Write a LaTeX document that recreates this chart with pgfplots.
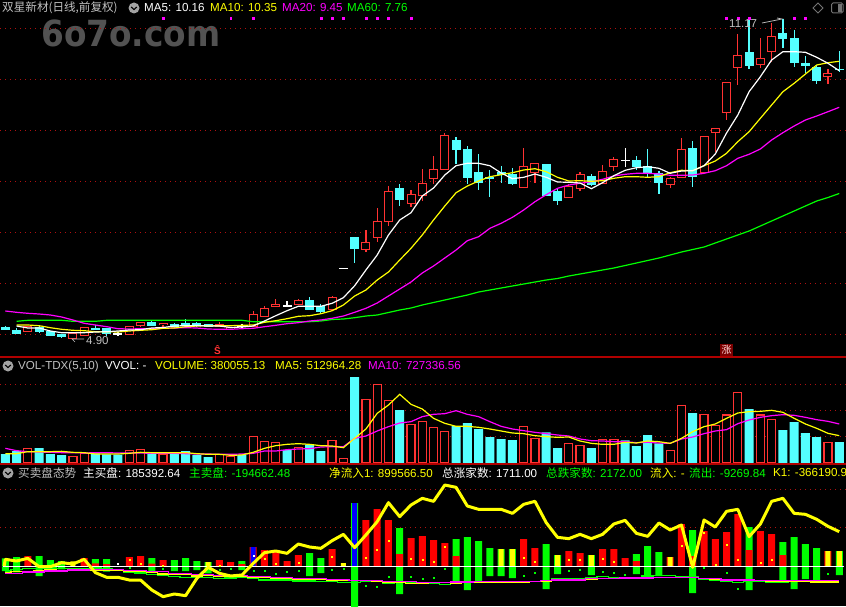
\documentclass[border=0pt]{standalone}
\usepackage{fontspec}
\usepackage{pgfplots}
\usepackage{pgfplotstable}
\pgfplotsset{compat=1.18}
\setmainfont{Liberation Sans}
\newfontfamily\cjk{Noto Sans CJK SC}
\newfontfamily\wm{DejaVu Sans}[BoldFont=DejaVu Sans Bold]
\definecolor{gr}{HTML}{C0C0C0}
\definecolor{cR}{HTML}{FF3232}
\definecolor{cC}{HTML}{54FFFF}
\definecolor{grd}{HTML}{B01010}
\definecolor{sep}{HTML}{B00000}
\definecolor{mg}{HTML}{FF00FF}
\definecolor{yl}{HTML}{FFFF00}
\definecolor{gn}{HTML}{00FF00}
\definecolor{rd}{HTML}{FF0000}
\definecolor{bl}{HTML}{0000FF}
\definecolor{wt}{HTML}{FFFFFF}
\definecolor{bk}{HTML}{000000}

% i hi top bot lo (screen rows)
\pgfplotstableread{
i hi top bot lo
2 326.3 326.3 331.7 331.7
6 333 333 338.7 338.7
7 327.3 327.3 335.7 335.7
11 326.3 326.3 334.3 334.3
12 322.3 322.3 325.7 327
14 323.3 323.3 324.6 326.7
19 322 324.3 326 326
20 327.5 327.5 328.7 328.7
22 311 314.3 326.7 326.7
23 306 308.3 316.7 316.7
24 299 304 306.7 306.7
26 299 300.3 304.7 304.7
29 296 297 309.3 309.3
32 230.3 242.3 249.3 251.7
33 208.3 221.3 237.7 241.7
34 186 191.3 221.7 225.7
36 190 194.3 203.7 207
37 169.3 183.3 195.3 201
38 156 169.3 178.7 183.7
39 133.3 135.3 169.7 169.7
46 148 166.3 187.7 187.7
47 163.3 163.3 172.7 182.7
50 184 186.5 197.7 197.7
51 171.7 174.3 188.7 190.7
53 165 171.3 183.3 183.3
54 157 159.3 166.5 170.7
59 176.7 178.3 184.7 188
60 138 149.3 177.3 177.3
62 136 136.3 172 172
63 128.3 128.3 132.7 152
64 82.3 82.3 112.7 119.7
65 34 55.3 67.7 84.7
67 38 58.3 64.7 68
68 23.3 36.3 51.7 61.7
73 69.3 73.3 76.7 83.7
}\redc
\pgfplotstableread{
i hi top bot lo
0 326 327 329 330
1 328 330 333 334
3 326 327.3 331 333
4 331 331.3 335 336
5 334.5 334.7 336.7 338
8 325 328.3 329 329.5
9 328 328.3 333.7 336
13 320.7 322.3 325.3 326
15 323 324.3 326 327.7
16 319.3 323.3 325 325.5
17 322 323.3 325.3 326.7
18 324 324 326 327
27 297 300 309 310
28 304 306 311 313
31 237 237 248 262.7
35 184.3 188.3 199.7 205.7
40 137.3 140.3 149.7 164.3
41 146.3 149 177.7 183.7
42 154 172 182.7 189.7
43 170 177.3 178.7 196.7
44 166 172.3 174.7 182.7
45 168 174 183 185
48 164 164 195 195
49 188.3 191 200 204.7
52 174 176.3 184 186
56 156 160 166 170
57 149 166 172.7 176.7
58 171.3 173.3 182.7 194
61 141 148 176.7 187
66 20 52 65.7 68.7
69 19 33 38 48.3
70 30 38 62.7 66.7
71 56 63 65.7 73.3
72 65 67.3 80.7 84
74 51 69 69.6 71.7
}\cyanc
\pgfplotstableread{
i hi top bot lo
10 332.3 333.6 334 336
21 324 325.8 326.2 328
25 301 305.5 305.9 307.3
30 268 268.1 268.5 268.5
55 148 160.1 160.5 167
}\whitec
\pgfplotstableread{
i ma5 ma10 ma20 ma60
0 nan nan 311 nan
1 326 325 312.3 321.3
2 328 325 313.3 320.3
3 328 325.7 314 320.3
4 331 327.7 315 320.3
5 332.7 329.3 317 320.3
6 332.7 330.3 320 321.3
7 332.7 330.7 323.3 321.3
8 332 331.7 325 321.3
9 331.7 331.7 326.7 320.3
10 331 332 328.7 320.3
11 330 331 329 320.3
12 329.7 330.3 328.7 320.3
13 328 329.7 328.7 320.3
14 327.5 328.3 328.3 320.3
15 326 328 328 320.3
16 325.7 326.7 327.7 320.3
17 325.5 326 328 320.3
18 326 325.7 329 320.3
19 326 325.7 329.3 320.3
20 327.5 325.7 329.3 320.3
21 327 325.3 328.7 320.3
22 326 325 328.3 321.7
23 321 322.3 326.7 321.7
24 315.7 320.7 325.3 321.7
25 310.7 318.7 323.7 321.7
26 306.3 316.3 322.7 321.7
27 306.3 315.7 321 321.7
28 306.3 313.7 320 321
29 303.3 310.7 318.3 319.5
30 297.7 305 316 319
31 285.7 296 312.3 317.7
32 270 290 308.3 316
33 255 280 303 315
34 235 272 296 312.5
35 220 260 289 310
36 212.7 248.3 282 308
37 196 235 273 305
38 188 220 266 302.5
39 175 206 258 300
40 165.7 192.7 250 297.5
41 163.3 186 240.7 295
42 163.3 181 236.7 292
43 165.7 176.7 228.3 290
44 173 174.7 223.3 288
45 178.7 172.7 217.3 286
46 177.3 170 210 284
47 174 168.7 201.7 282
48 177.3 171.7 194.7 280
49 182 177.3 188.3 278.5
50 182.3 181 185 276
51 183 180.7 183.3 274
52 188.7 181.3 181.7 272
53 182.7 180.7 179.3 270
54 175.7 178.3 176 268
55 170.3 176.7 174.3 265.5
56 167.7 176.7 173.3 263
57 166.7 177.3 173.3 260.5
58 168.3 176.7 174 258
59 173.3 172.7 175.3 255
60 171 170.3 175.3 252
61 170.7 170.7 175 249.5
62 165.7 165.7 173.3 247
63 154 161 170.7 243
64 133 153.3 165.7 239
65 115 141.7 158.3 235
66 91.7 131.7 154.3 231
67 76.7 118.3 149 226
68 60 105 140 221
69 51.7 91.7 132.7 216
70 51.7 83.3 126 211
71 52.3 74 120 206
72 57.3 65 116 201
73 63.3 62.7 111.7 197.5
74 70.7 61.3 107.3 193.5
}\mas

% volume, in thirds of a pixel
\pgfplotstableread{
i v
2 43
6 20
7 29
11 38
12 41
14 26
19 26
20 20
22 80
23 65
24 62
26 47
29 68
30 14
32 191
33 236
34 188
36 116
37 125
38 107
39 95
46 110
47 74
50 59
51 53
53 71
54 71
59 38
60 173
62 146
63 113
64 144
65 212
67 144
68 131
73 62
}\volred
\pgfplotstableread{
i v
0 27
1 36
3 45
4 27
5 24
8 29
9 26
10 25
13 31
15 29
16 36
17 24
18 18
21 24
25 39
27 56
28 36
31 258
35 159
40 111
41 120
42 102
43 78
44 72
45 69
48 92
49 45
52 45
55 68
56 51
57 84
58 59
61 150
66 162
69 99
70 123
71 90
72 78
74 63
}\volcyan
\pgfplotstableread{
i ma5 ma10
0 28 44
1 28 37
2 34 34
3 34 33
4 34 32
5 35 31
6 32 31
7 31 30
8 27 31
9 27 31
10 27 30
11 29 30
12 32 30
13 31 29
14 31 29
15 31 29
16 31 28
17 28 27
18 26 27
19 26 26
20 23 26
21 24 27
22 32 29
23 44 36
24 52 36
25 56 40
26 58 42
27 56 43
28 52 48
29 51 49
30 46 49
31 74 74
32 102 81
33 149 96
34 174 109
35 206 120
36 176 124
37 162 139
38 134 146
39 119 148
40 110 157
41 110 146
42 107 139
43 102 124
44 96 110
45 90 102
46 88 97
47 82 92
48 79 88
49 77 84
50 78 81
51 66 72
52 59 67
53 56 66
54 56 64
55 62 64
56 60 61
57 66 62
58 64 60
59 59 59
60 74 72
61 94 78
62 109 88
63 117 96
64 134 100
65 150 118
66 154 129
67 155 137
68 158 142
69 152 145
70 134 143
71 117 137
72 104 130
73 89 125
74 82 117
}\volma

% lower panel
\pgfplotstableread{
i up down
0 24 -14
1 28 -18
3 31 -29
4 19 -11
5 16 -9
8 22 -11
9 22 -16
13 25 -14
15 19 -14
16 25 -14
17 16 -11
18 13 -21
21 16 -11
27 40 -29
28 25 -20
31 190 -125
35 115 -83
40 82 -47
41 88 -71
42 76 -44
43 55 -29
44 52 -29
45 52 -35
48 67 -68
49 34 -23
52 34 -26
56 37 -23
57 61 -35
58 43 -29
61 109 -80
66 118 -71
69 73 -47
70 88 -68
71 67 -38
72 55 -47
74 46 -26
}\lowgreen
\pgfplotstableread{
i h
2 31
7 25
8 9
9 7
11 28
12 31
13 8
14 19
19 19
20 13
21 7
22 58
23 49
24 46
25 16
26 34
29 52
32 139
33 172
34 139
35 37
36 85
37 91
38 79
39 70
40 31
46 82
47 55
50 46
51 40
53 52
54 52
55 25
56 16
59 28
60 127
61 31
62 106
63 82
64 103
65 157
66 49
67 106
68 97
69 34
73 46
}\lowred
\pgfplotstableread{
i h
6 15
18 13
30 10
44 52
45 52
49 34
52 34
59 28
73 46
74 46
}\lowyel
\pgfplotstableread{
i h
22 58
31 190
}\lowblue
\pgfplotstableread{
i net
-0.1 1
0 21
1 16
2 24
3 -1
4 -1
5 11
6 7
7 21
8 -19
9 -33
10 -33
11 -41
12 -41
13 -71
14 -91
15 -83
16 -88
17 -36
18 -3
19 -21
20 -29
21 -26
22 9
23 41
24 46
25 39
26 67
27 58
28 54
29 77
30 96
31 56
32 94
33 134
34 191
35 149
36 184
37 204
38 195
39 244
40 237
41 181
42 171
43 171
44 171
45 159
46 186
47 195
48 131
49 87
50 83
51 96
52 83
53 96
54 127
55 138
56 99
57 90
58 130
59 109
60 124
61 -3
62 139
63 118
64 165
65 171
66 89
67 127
68 195
69 204
70 159
71 156
72 141
73 120
74 104
}\lownet
\pgfplotstableread{
i g y m
0 -14 -18 -21
1 -9 -16 -21
2 -6 -16 -17
3 -6 -13 -17
4 -5 -11 -14
5 -6 -12 -14
6 -7 -9 -11
7 -6 -11 -11
8 -5 -11 -10
9 -7 -11 -10
10 -9 -11 -10
11 -17 -14 -13
12 -20 -14 -13
13 -25 -19 -16
14 -27 -23 -16
15 -30 -25 -21
16 -33 -25 -21
17 -33 -29 -25
18 -33 -27 -25
19 -36 -31 -28
20 -35 -31 -28
21 -33 -31 -28
22 -37 -33 -31
23 -41 -34 -31
24 -41 -36 -33
25 -41 -36 -33
26 -44 -39 -36
27 -44 -39 -36
28 -46 -40 -36
29 -45 -42 -39
30 -49 -42 -39
31 -48 -43 -43
32 -46 -43 -43
33 -46 -45 -43
34 -52 -47 -46
35 -49 -49 -46
36 -49 -51 -46
37 -49 -50 -48
38 -51 -49 -48
39 -54 -49 -48
40 -52 -50 -47
41 -49 -49 -47
42 -47 -47 -46
43 -46 -47 -46
44 -46 -47 -46
45 -46 -47 -46
46 -46 -47 -46
47 -46 -46 -46
48 -42 -44 -43
49 -37 -39 -41
50 -36 -39 -41
51 -37 -39 -41
52 -33 -39 -37
53 -30 -36 -37
54 -33 -36 -37
55 -33 -36 -35
56 -34 -35 -35
57 -29 -33 -35
58 -27 -33 -33
59 -27 -33 -33
60 -32 -33 -34
61 -31 -33 -34
62 -38 -36 -37
63 -41 -39 -37
64 -44 -39 -41
65 -48 -42 -41
66 -45 -42 -41
67 -44 -42 -43
68 -48 -44 -43
69 -47 -44 -43
70 -45 -44 -43
71 -44 -45 -42
72 -42 -47 -42
73 -42 -47 -42
74 -42 -47 -42
}\lowthin
\pgfplotstableread{
i h
11 21
12 9
14 3
19 3
23 24
24 9
26 12
29 30
32 27
33 51
34 78
36 24
37 21
38 15
39 60
46 27
47 15
50 21
51 21
53 24
54 15
60 63
62 100
63 6
64 66
65 21
67 12
68 21
}\dotyel
\pgfplotstableread{
i h
11 -3
14 -6
19 -9
20 -6
22 -12
23 -12
24 -21
25 -15
26 -12
29 -9
30 -6
32 -57
33 -60
34 -30
36 -30
37 -36
38 -33
39 -6
46 -27
47 -18
50 -12
51 -9
53 -15
54 -18
55 -24
62 -3
64 -18
65 -66
73 -21
}\dotgrn

\pgfplotsset{panel/.style={
  scale only axis, width=846pt, xmin=-0.47, xmax=74.6,
  xtick=\empty, yticklabels={}, ymajorgrids,
  grid style={draw=grd, line width=1pt, dash pattern=on 1pt off 4pt},
  tick style={draw=none}, axis line style={draw=none},
  anchor=south west},
  wick/.style={draw=none, mark=none, forget plot, error bars/.cd, y dir=both, y explicit, error mark=none,
    error bar style={draw=#1, line width=1.2pt, solid}},
  body/.style 2 args={draw=none, mark=none, forget plot, error bars/.cd, y dir=both, y explicit, error mark=none,
    error bar style={draw=#1, line width=#2, solid}},
}
\newcommand{\T}[4]{\node[anchor=west, inner sep=0pt, text=#3, font=\fontsize{11.6pt}{12pt}\selectfont] at (#1pt,{(606-#2)*1pt}) {#4};}
\newcommand{\chev}[2]{\fill[gr!85!black] (#1pt,{(606-#2)*1pt}) circle (5.5pt);
  \draw[bk, line width=1.1pt] ({(#1-2.8)*1pt},{(606-#2+1)*1pt}) -- (#1pt,{(606-#2-1.5)*1pt}) -- ({(#1+2.8)*1pt},{(606-#2+1)*1pt});}

\begin{document}
\begin{tikzpicture}
\path[use as bounding box, fill=bk] (0pt,0pt) rectangle (846pt,606pt);
\node[anchor=west, inner sep=0pt, text=black!68, font=\wm\bfseries\fontsize{36pt}{36pt}\selectfont] at (41pt,{(606-33)*1pt}) {\scalebox{0.91}[1]{6o7o.com}};

% ---------- main panel
\begin{axis}[panel, at={(0pt,249pt)}, height=357pt, ymin=0, ymax=357, y dir=reverse,
  ytick={28,79.5,130.5,181.7,232.8,283,334}]
\addplot[wick=cR] table[x=i, y expr=(\thisrow{hi}+\thisrow{lo})/2, y error expr=(\thisrow{lo}-\thisrow{hi})/2] {\redc};
\addplot[wick=cC] table[x=i, y expr=(\thisrow{hi}+\thisrow{lo})/2, y error expr=(\thisrow{lo}-\thisrow{hi})/2] {\cyanc};
\addplot[wick=wt] table[x=i, y expr=(\thisrow{hi}+\thisrow{lo})/2, y error expr=(\thisrow{lo}-\thisrow{hi})/2] {\whitec};
\addplot[body={cR}{9pt}] table[x=i, y expr=(\thisrow{top}+\thisrow{bot})/2, y error expr=(\thisrow{bot}-\thisrow{top})/2+0.5] {\redc};
\addplot[body={bk}{7pt}] table[x=i, y expr=(\thisrow{top}+\thisrow{bot})/2, y error expr={max((\thisrow{bot}-\thisrow{top})/2-0.5,0)}] {\redc};
\addplot[body={cC}{9pt}] table[x=i, y expr=(\thisrow{top}+\thisrow{bot})/2, y error expr=(\thisrow{bot}-\thisrow{top})/2+0.5] {\cyanc};
\addplot[body={wt}{9pt}] table[x=i, y expr=(\thisrow{top}+\thisrow{bot})/2, y error expr=(\thisrow{bot}-\thisrow{top})/2+0.3] {\whitec};
\addplot[gn, line width=1.2pt, forget plot] table[x=i, y=ma60] {\mas};
\addplot[mg, line width=1.2pt, forget plot] table[x=i, y=ma20] {\mas};
\addplot[yl, line width=1.2pt, forget plot] table[x=i, y=ma10] {\mas};
\addplot[wt, line width=1.2pt, forget plot] table[x=i, y=ma5] {\mas};
\addplot[only marks, mark=square*, mark size=0.9pt, mg, forget plot] coordinates {
(14,18)(20,18)(22,18)(28,18)(29,18)(30,18)(32,18)(33,18)(34,18)(36,18)(64,18)(65,18)(66,18)(70,18)(71,18)};
\end{axis}

% ---------- volume panel
\begin{axis}[panel, at={(0pt,143pt)}, height=108pt, ymin=0, ymax=324, ytick={80,158,236}]
\addplot[ybar, bar width=8pt, bar shift=0pt, draw=cR, fill=bk, line width=1.3pt, forget plot] table[x=i, y=v] {\volred};
\addplot[ybar, bar width=9pt, bar shift=0pt, draw=none, fill=cC, forget plot] table[x=i, y=v] {\volcyan};
\addplot[mg, line width=1.2pt, forget plot] table[x=i, y=ma10] {\volma};
\addplot[yl, line width=1.2pt, forget plot] table[x=i, y=ma5] {\volma};
\end{axis}

% ---------- lower panel
\begin{axis}[panel, at={(0pt,0pt)}, height=142pt, ymin=-119, ymax=307, ytick={117,231}]
\addplot[ybar, bar width=7pt, bar shift=0pt, draw=none, fill=gn, forget plot] table[x=i, y=up] {\lowgreen};
\addplot[ybar, bar width=7pt, bar shift=0pt, draw=none, fill=gn, forget plot] table[x=i, y=down] {\lowgreen};
\addplot[ybar, bar width=7pt, bar shift=0pt, draw=none, fill=rd, forget plot] table[x=i, y=h] {\lowred};
\addplot[ybar, bar width=5pt, bar shift=0pt, draw=none, fill=yl, forget plot] table[x=i, y=h] {\lowyel};
\addplot[ybar, bar width=5pt, bar shift=0pt, draw=none, fill=bl, forget plot] table[x=i, y=h] {\lowblue};
\addplot[gn, line width=1.2pt, const plot mark mid, forget plot] table[x=i, y=g] {\lowthin};
\addplot[yl, line width=1.2pt, const plot mark mid, forget plot] table[x=i, y=y] {\lowthin};
\addplot[mg, line width=1.2pt, const plot mark mid, forget plot] table[x=i, y=m] {\lowthin};
\addplot[only marks, mark=square*, mark size=0.5pt, yl, forget plot] table[x=i, y=h] {\dotyel};
\addplot[only marks, mark=square*, mark size=0.5pt, gn, forget plot] table[x=i, y=h] {\dotgrn};
\addplot[only marks, mark=square*, mark size=0.5pt, wt, forget plot] coordinates {(10,9)(22,33)};
\addplot[wt, line width=1.2pt, forget plot] coordinates {(-0.2,0)(74.4,0)};
\addplot[yl, line width=3pt, line join=round, forget plot] table[x=i, y=net] {\lownet};
\end{axis}

% ---------- separators
\draw[sep, line width=1.2pt] (0pt,{(606-357)*1pt}) -- (846pt,{(606-357)*1pt});
\draw[sep, line width=1.2pt] (0pt,{(606-464)*1pt}) -- (846pt,{(606-464)*1pt});

% ---------- annotations
\node[anchor=west, inner sep=0pt, text=gr, font=\fontsize{11.5pt}{12pt}\selectfont] at (86pt,{(606-340.5)*1pt}) {4.90};
\draw[gr, line width=0.7pt] (84pt,{(606-339)*1pt}) -- (72pt,{(606-339)*1pt}) -- (75pt,{(606-342)*1pt});
\node[anchor=west, inner sep=0pt, text=gr, font=\fontsize{11.5pt}{12pt}\selectfont] at (729pt,{(606-24)*1pt}) {11.17};
\draw[gr, line width=0.7pt] (762pt,{(606-23)*1pt}) -- (782pt,{(606-19)*1pt}) -- (777pt,{(606-18)*1pt});
\node[inner sep=0pt, text=cR, font=\bfseries\fontsize{10pt}{10pt}\selectfont] at (217.5pt,{(606-350)*1pt}) {Ŝ};
\fill[sep!70!black] (720pt,{(606-356)*1pt}) rectangle (733pt,{(606-344)*1pt});
\node[inner sep=0pt, text=white!85!red, font=\cjk\fontsize{10pt}{10pt}\selectfont] at (726.5pt,{(606-350)*1pt}) {涨};
\draw[gr!60!black, line width=0.8pt] (818pt,{(606-3)*1pt}) -- (823pt,{(606-8)*1pt}) -- (818pt,{(606-13)*1pt}) -- (813pt,{(606-8)*1pt}) -- cycle;
\draw[gr!60!black, line width=1pt, rounded corners=1.5pt] (831.5pt,{(606-3)*1pt}) rectangle (843pt,{(606-13)*1pt});
\fill[gr!60!black] (838pt,{(606-4)*1pt}) rectangle (842pt,{(606-12)*1pt});

% ---------- header texts
\T{2}{8}{gr}{\cjk 双星新材(日线,前复权)}
\chev{134}{8}
\T{144}{8}{wt}{MA5: 10.16}
\T{210}{8}{yl}{MA10: 10.35}
\T{282}{8}{mg}{MA20: 9.45}
\T{347}{8}{gn}{MA60: 7.76}

\chev{8}{366}
\T{18}{366}{gr}{VOL-TDX(5,10)}
\T{105}{366}{wt}{VVOL: -}
\T{155}{366}{yl}{VOLUME: 380055.13}
\T{275}{366}{yl}{MA5: 512964.28}
\T{368}{366}{mg}{MA10: 727336.56}

\chev{8}{473}
\T{18}{473}{gr}{\cjk 买卖盘态势}
\T{83}{473}{wt}{{\cjk 主买盘}: 185392.64}
\T{189}{473}{gn}{{\cjk 主卖盘}: -194662.48}
\T{329}{473}{yl}{{\cjk 净流入}1: 899566.50}
\T{442}{473}{wt}{{\cjk 总涨家数}: 1711.00}
\T{546}{473}{gn}{{\cjk 总跌家数}: 2172.00}
\T{650}{473}{yl}{{\cjk 流入}: -}
\T{689}{473}{gn}{{\cjk 流出}: -9269.84}
\T{773}{473}{yl}{K1: -366190.9}
\end{tikzpicture}
\end{document}
